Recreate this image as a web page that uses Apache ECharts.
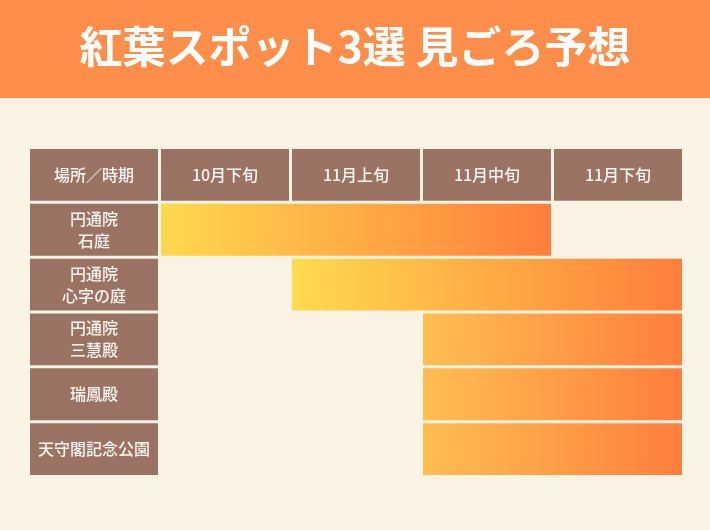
<!DOCTYPE html>
<html>
<head>
<meta charset="utf-8">
<script src="https://cdn.jsdelivr.net/npm/echarts@6/dist/echarts.min.js"></script>
<style>
html,body{margin:0;padding:0;background:#FAF3E4;}
#c{width:710px;height:530px;}
</style>
</head>
<body>
<div id="c"></div>
<script>
// ---- data ----
const titleText = '紅葉スポット3選 見ごろ予想';
const cornerLabel = '場所／時期';
const periods = ['10月下旬', '11月上旬', '11月中旬', '11月下旬'];
const spots = ['円通院\n石庭', '円通院\n心字の庭', '円通院\n三慧殿', '瑞鳳殿', '天守閣記念公園'];
const startPeriod = [0, 1, 2, 2, 2];
const endPeriod = [2, 3, 3, 3, 3];

// ---- styles ----
const cellColor = '#9A7365';
const cellText = '#FBF4EC';
const barStartColors = ['#FFD94D', '#FFDA4E', '#FFBE52', '#FFBE52', '#FFBE52'];
const barEndColor = '#FF7E3C';
const gapX = 3, gapY = 3;
const font = '"Noto Sans CJK JP", "Noto Sans", sans-serif';

const chart = echarts.init(document.getElementById('c'), null, {renderer: 'canvas'});

function cellRect(api, col0, col1, row) {
  const p0 = api.coord([col0, row]);
  const p1 = api.coord([col1 + 1, row + 1]);
  return {x: p0[0], y: p0[1], width: p1[0] - p0[0] - gapX, height: p1[1] - p0[1] - gapY};
}

function cellGroup(r, text) {
  return {
    type: 'group',
    children: [
      {type: 'rect', shape: r, style: {fill: cellColor}},
      {type: 'text', x: r.x + r.width / 2, y: r.y + r.height / 2,
        style: {text: text, fill: cellText, font: '500 16px ' + font, align: 'center', verticalAlign: 'middle', lineHeight: 22}}
    ]
  };
}

const headerData = [[-1, -1, cornerLabel]].concat(periods.map((p, i) => [i, -1, p]));
const labelData = spots.map((s, i) => [-1, i, s]);
const barData = spots.map((s, i) => [startPeriod[i], endPeriod[i], i]);

chart.setOption({
  backgroundColor: '#FAF3E4',
  animation: false,
  title: {
    text: titleText, left: 'center', top: 20,
    textStyle: {color: '#FFFFFF', fontSize: 43, fontWeight: 'bold', fontFamily: font}
  },
  graphic: [{
    type: 'rect', z: -1, left: 0, top: 0,
    shape: {width: 710, height: 98},
    style: {fill: '#FE8E4A'}
  }],
  grid: {left: 30, right: 25, top: 149, bottom: 52},
  xAxis: {type: 'value', min: -1, max: 4, show: false},
  yAxis: {type: 'value', min: -1, max: 5, inverse: true, show: false},
  series: [
    {
      type: 'custom', name: 'header', data: headerData,
      renderItem: (params, api) => {
        const c = api.value(0);
        const r = cellRect(api, c, c, api.value(1));
        return cellGroup(r, headerData[params.dataIndex][2]);
      }
    },
    {
      type: 'custom', name: 'labels', data: labelData,
      renderItem: (params, api) => {
        const r = cellRect(api, -1, -1, api.value(1));
        return cellGroup(r, spots[params.dataIndex]);
      }
    },
    {
      type: 'custom', name: 'bars', data: barData,
      encode: {x: [0, 1], y: 2},
      renderItem: (params, api) => {
        const r = cellRect(api, api.value(0), api.value(1), api.value(2));
        return {
          type: 'rect', shape: r,
          style: {
            fill: new echarts.graphic.LinearGradient(0, 0, 1, 0, [
              {offset: 0, color: barStartColors[params.dataIndex]},
              {offset: 1, color: barEndColor}
            ])
          }
        };
      }
    }
  ]
});
</script>
</body>
</html>
